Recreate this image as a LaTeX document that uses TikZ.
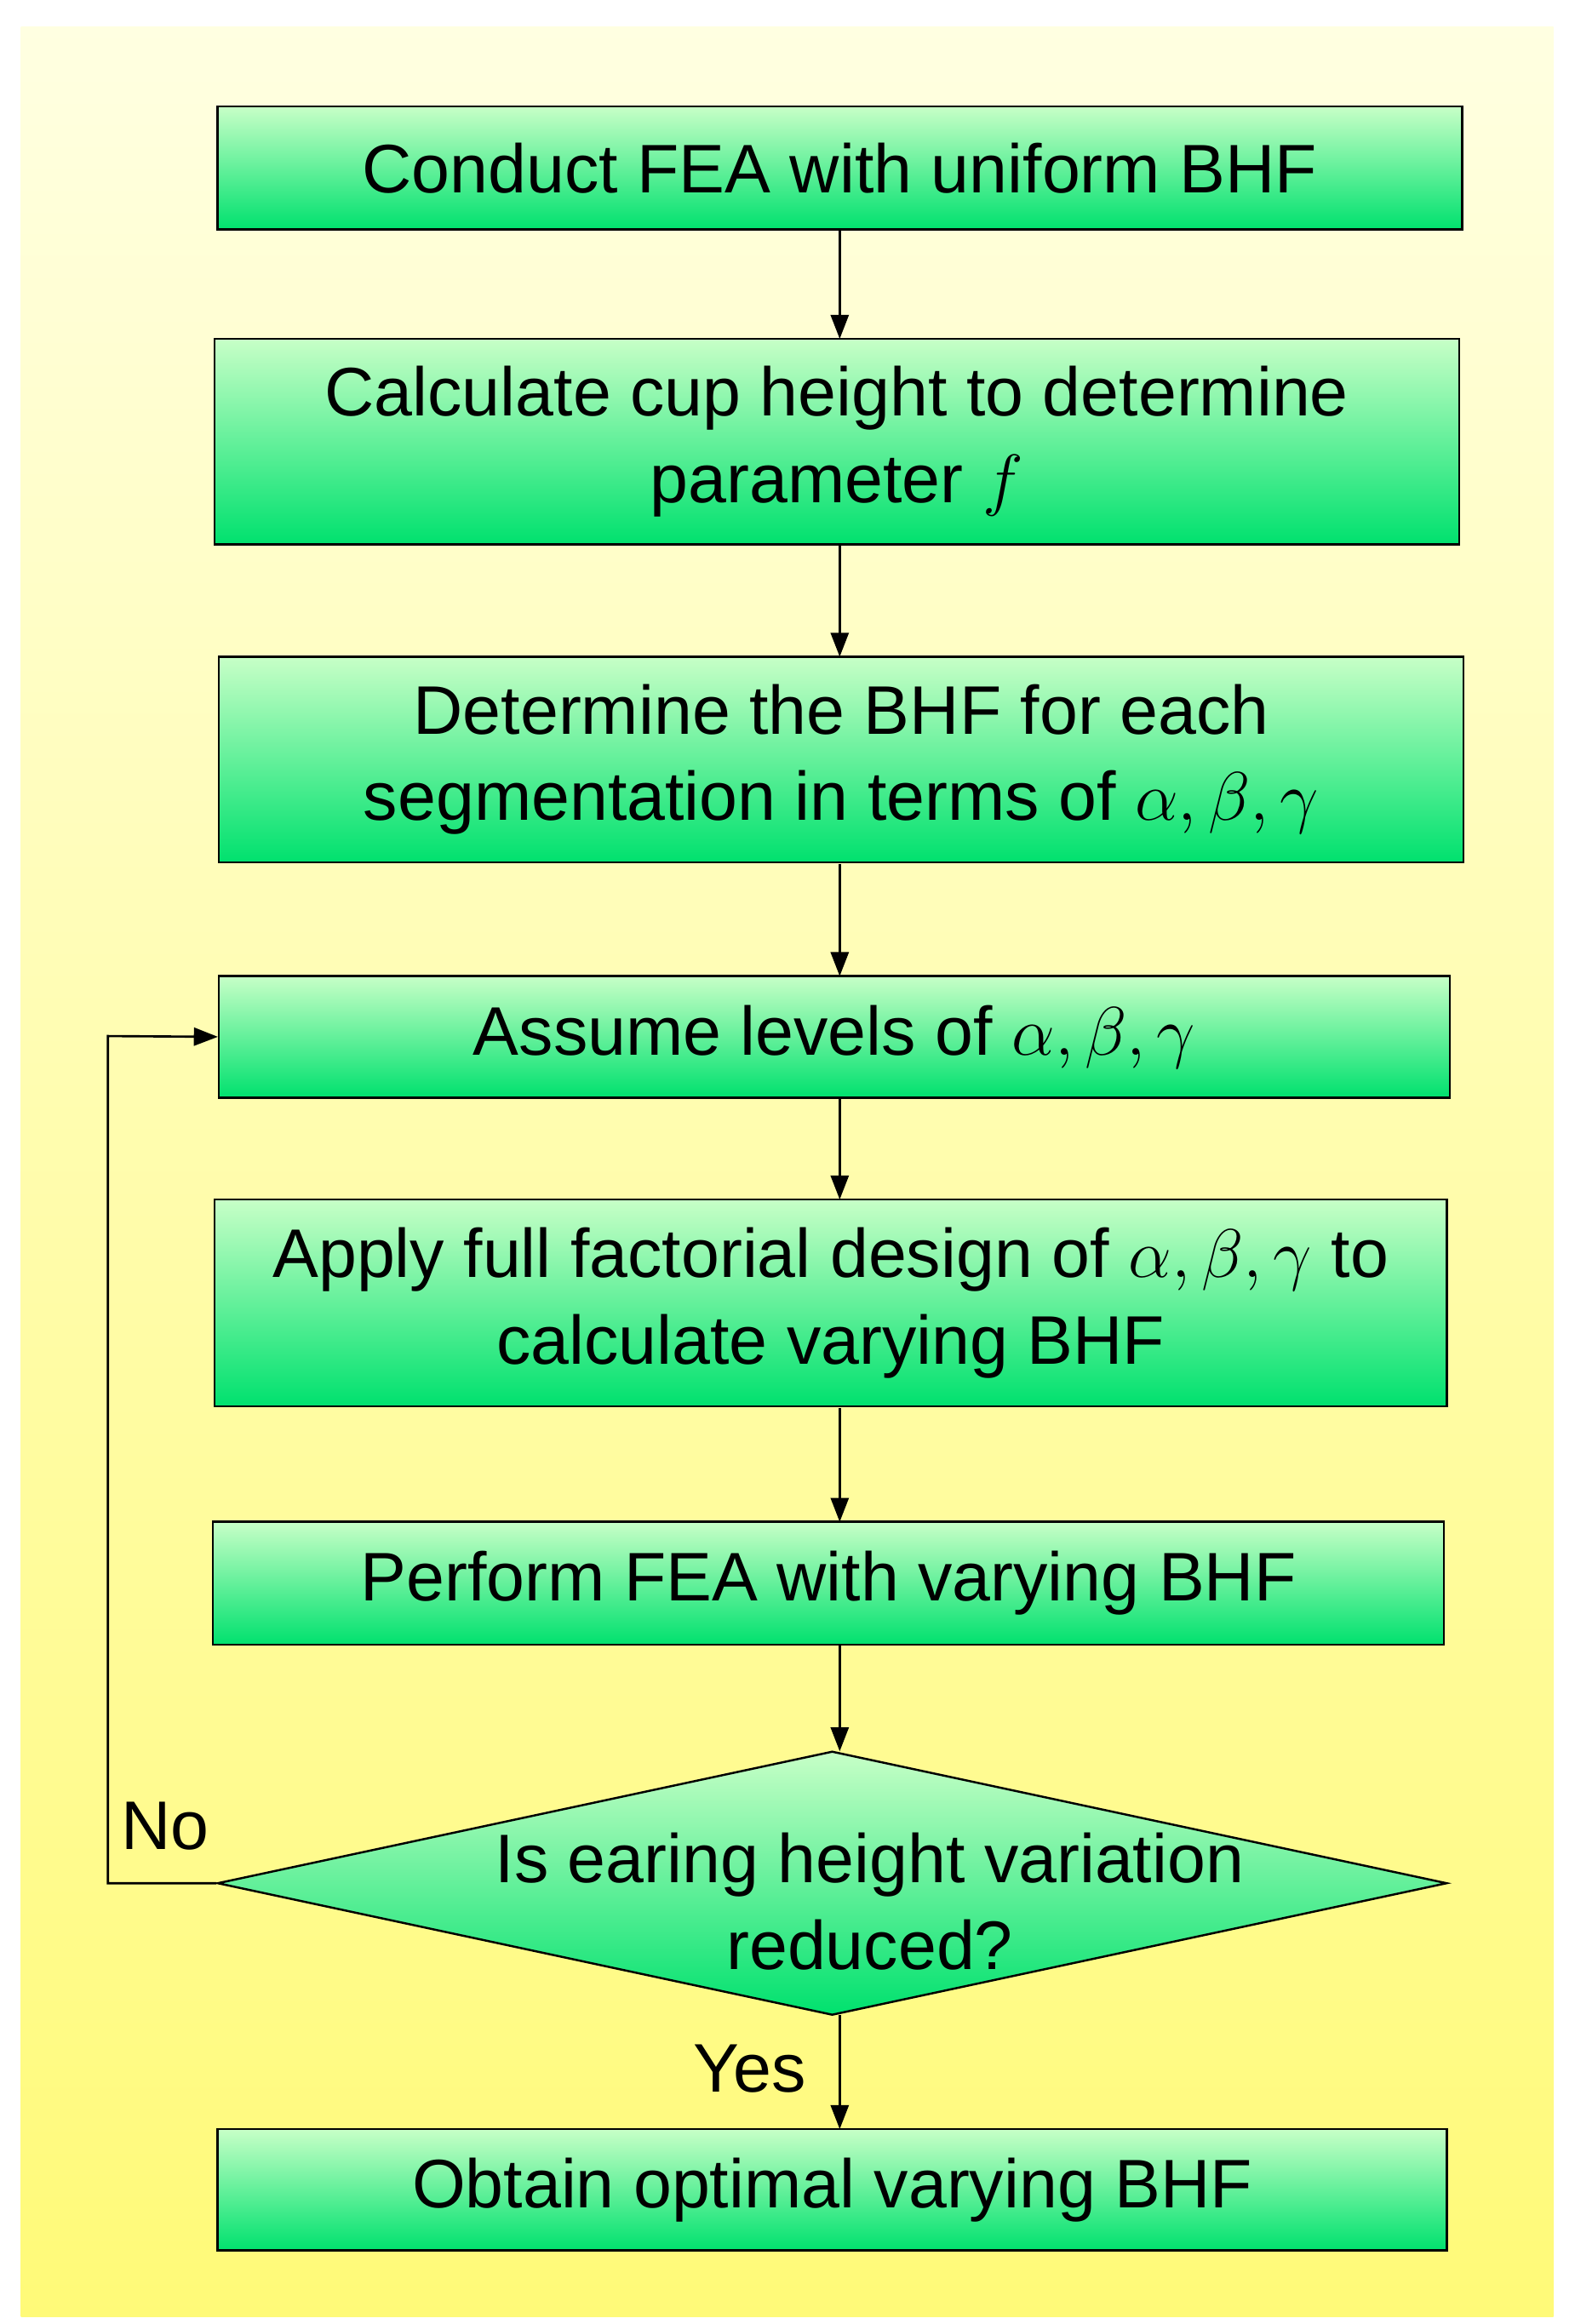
\RequirePackage{fix-cm}
\documentclass[tikz,border=0pt]{standalone}
\usepackage{fontspec}
\setmainfont{Liberation Sans}
\usetikzlibrary{shapes.geometric,arrows.meta}
\begin{document}
\begin{tikzpicture}[x=1bp,y=-1bp,
  box/.style={draw=black,line width=1.4bp,top color=green!22!white,bottom color={rgb,255:red,0;green,225;blue,110},align=center,inner sep=0pt,font=\fontsize{46}{58}\selectfont},
  arr/.style={-{Triangle[length=16bp,width=12bp]},line width=1.5bp},
  lbl/.style={font=\fontsize{46}{50}\selectfont}]
\useasboundingbox (0,0) rectangle (1050,1550);
\shade[top color={rgb,255:red,255;green,255;blue,225},bottom color={rgb,255:red,255;green,250;blue,120}] (14,18) rectangle (1036,1545);
\node[box,minimum width=830bp,minimum height=82bp] (b1) at (560,112) {Conduct FEA with uniform BHF};
\node[box,minimum width=830bp,minimum height=137bp] (b2) at (558,294.5) {Calculate cup height to determine\\parameter $f$};
\node[box,minimum width=830bp,minimum height=137bp] (b3) at (561,506.5) {Determine the BHF for each\\segmentation in terms of $\alpha,\beta,\gamma$};
\node[box,minimum width=821bp,minimum height=81bp] (b4) at (556.5,691.5) {Assume levels of $\alpha,\beta,\gamma$};
\node[box,minimum width=822bp,minimum height=138bp] (b5) at (554,869) {Apply full factorial design of $\alpha,\beta,\gamma$ to\\calculate varying BHF};
\node[box,minimum width=821bp,minimum height=82bp] (b6) at (552.5,1056) {Perform FEA with varying BHF};
\node[box,diamond,aspect=4.66,minimum width=820bp,minimum height=176bp,inner sep=0pt] (d) at (555,1256) {};
\node[font=\fontsize{46}{58}\selectfont,align=center] (dt) at (580,1268) {Is earing height variation\\reduced?};
\node[box,minimum width=820bp,minimum height=81bp] (b7) at (555,1460.5) {Obtain optimal varying BHF};
\coordinate (c1) at (560,153);\coordinate (c2) at (560,364);\coordinate (c3) at (560,576);
\coordinate (c4) at (560,732);\coordinate (c5) at (560,939);\coordinate (c6) at (560,1097);
\coordinate (c7) at (560,1344);
\draw[arr] (c1) -- (560,226);
\draw[arr] (c2) -- (560,438);
\draw[arr] (c3) -- (560,651);
\draw[arr] (c4) -- (560,800);
\draw[arr] (c5) -- (560,1015);
\draw[arr] (c6) -- (560,1168);
\draw[arr] (c7) -- (560,1420);
\draw[arr] (d.west) -- (72,1256) -- (72,691) -- (b4.west);
\node[lbl] (no) at (110,1218) {No};
\node[lbl] (yes) at (500,1380) {Yes};
\end{tikzpicture}
\end{document}
